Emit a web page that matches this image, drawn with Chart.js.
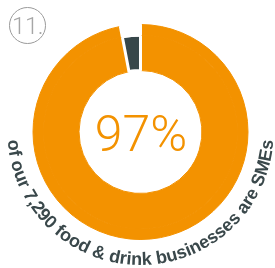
<!DOCTYPE html>
<html>
<head>
<meta charset="utf-8">
<script src="https://cdn.jsdelivr.net/npm/chart.js@4/dist/chart.umd.min.js"></script>
<style>
  html, body { margin: 0; padding: 0; background: #ffffff; }
  #wrap { position: relative; width: 275px; height: 268px; overflow: hidden; }
  #badge {
    position: absolute; left: 9px; top: 7px; width: 37px; height: 37px;
    border: 1px solid #9a9a9a; border-radius: 50%; box-sizing: border-box;
    font-family: Roboto, "Liberation Sans", sans-serif; font-weight: 300;
    font-size: 24px; color: #a6a6a6; text-align: center; line-height: 36px;
    letter-spacing: -0.5px;
  }
  #center {
    position: absolute; left: 0; width: 282px; top: 106px; text-align: center;
    font-family: Roboto, "Liberation Sans", sans-serif; font-weight: 300;
    font-size: 50px; line-height: 56px; color: #f39200;
  }
</style>
</head>
<body>
<div id="wrap">
  <canvas id="c"></canvas>
  <div id="badge"></div>
  <div id="center"></div>
</div>
<script>
// ---- data ----
const categories = ['SMEs', 'Other businesses'];
const shareValues = [97, 3];
const headlineText = '97%';
const badgeText = '11.';
const captionText = 'of our 7,290 food & drink businesses are SMEs';

// ---- styles ----
const ORANGE = '#f39200';
const DARK = '#37474a';
const WHITE = '#ffffff';

document.getElementById('badge').textContent = badgeText;
document.getElementById('center').textContent = headlineText;

const curvedCaption = {
  id: 'curvedCaption',
  afterDraw(chart) {
    const arc = chart.getDatasetMeta(0).data[0];
    if (!arc) return;
    const ctx = chart.ctx;
    const cx = arc.x, cy = arc.y;
    const r = arc.outerRadius + 25.5;
    ctx.save();
    ctx.font = 'bold 18px "Liberation Sans", Arial, sans-serif';
    ctx.fillStyle = '#3a484b';
    ctx.textAlign = 'center';
    ctx.textBaseline = 'alphabetic';
    const chars = Array.from(captionText);
    const widths = chars.map(ch => ctx.measureText(ch).width);
    const total = widths.reduce((a, b) => a + b, 0);
    let theta = Math.PI / 2 + total / r / 2;
    chars.forEach((ch, i) => {
      const w = widths[i];
      const tc = theta - w / (2 * r);
      ctx.save();
      ctx.translate(cx + r * Math.cos(tc), cy + r * Math.sin(tc));
      ctx.rotate(tc - Math.PI / 2);
      ctx.fillText(ch, 0, 0);
      ctx.restore();
      theta -= w / r;
    });
    ctx.restore();
  }
};

new Chart(document.getElementById('c'), {
  type: 'doughnut',
  data: {
    labels: categories,
    datasets: [
      {
        data: shareValues,
        backgroundColor: [ORANGE, WHITE],
        borderColor: [ORANGE, WHITE],
        borderWidth: [1, 3],
        weight: 10.5
      },
      {
        data: shareValues,
        backgroundColor: [ORANGE, DARK],
        borderColor: [ORANGE, WHITE],
        borderWidth: [1, 3],
        weight: 35.5
      }
    ]
  },
  options: {
    responsive: true,
    maintainAspectRatio: false,
    animation: false,
    cutout: '57.2%',
    layout: { padding: { left: 31.5, right: 25.5, top: 23, bottom: 27 } },
    plugins: {
      legend: { display: false },
      tooltip: { enabled: false }
    },
    events: []
  },
  plugins: [curvedCaption]
});
</script>
</body>
</html>
